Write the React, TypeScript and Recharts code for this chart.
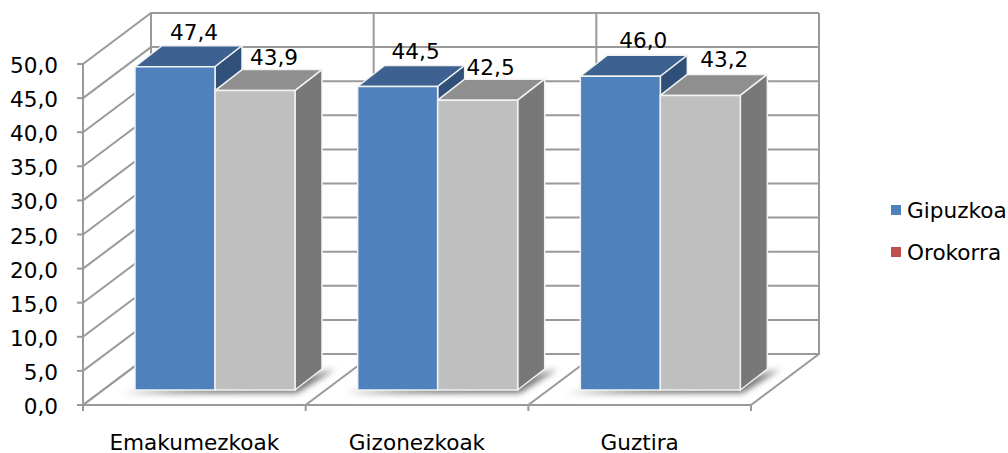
import React from 'react';
import { BarChart, Bar, XAxis, YAxis, CartesianGrid, Legend, LabelList } from 'recharts';

const categories = ['Emakumezkoak', 'Gizonezkoak', 'Guztira'];
const gipuzkoa = [47.4, 44.5, 46.0];
const orokorra = [43.9, 42.5, 43.2];
const yTicks = [0, 5, 10, 15, 20, 25, 30, 35, 40, 45, 50];

const data = categories.map((name, i) => ({ name, gipuzkoa: gipuzkoa[i], orokorra: orokorra[i] }));

const FONT = 'Verdana, "DejaVu Sans", sans-serif';
const FONT_SIZE = 21.6;
const GRID = '#9a9a9a';
// depth of the floor and of the bars, the 3D look is all done with these
const WALL_DX = 68;
const WALL_DY = -51;
const BAR_SHIFT_X = 21;
const BAR_SHIFT_Y = -15;
const BAR_DX = 27;
const BAR_DY = -21;
// the original's labels are not quite evenly placed, [dx, dy] per category
const gipuzkoaLabelNudge = [[-1, 1], [-2, 0], [3, -1]];
const orokorraLabelNudge = [[-1, 2], [-7, 2], [4, -1]];

const fmt = (v: number) => v.toFixed(1).replace('.', ',');

function wallLine(p: any) {
  // left wall diagonal, then across the back wall
  const pts = `${p.x1},${p.y1} ${p.x1 + WALL_DX},${p.y1 + WALL_DY} ${p.x2 + WALL_DX},${p.y1 + WALL_DY}`;
  return <polyline key={p.key} points={pts} fill="none" stroke={GRID} strokeWidth={2} />;
}

function wallColumn(p: any) {
  const bottom = Math.max(p.y1, p.y2);
  const top = Math.min(p.y1, p.y2);
  const pts = `${p.x1},${bottom + 6} ${p.x1},${bottom} ${p.x1 + WALL_DX},${bottom + WALL_DY} ${p.x1 + WALL_DX},${top + WALL_DY}`;
  return <polyline key={p.key} points={pts} fill="none" stroke={GRID} strokeWidth={2} />;
}

function box(p: any, front: string, top: string, side: string, shadow: boolean) {
  const x = p.x + BAR_SHIFT_X;
  const y = p.y + BAR_SHIFT_Y;
  const w = p.width;
  const b = y + p.height;
  const edge = { stroke: '#f2f2f2', strokeWidth: 1.5, strokeLinejoin: 'round' as const };
  return (
    <g>
      {shadow && (
        <polygon
          points={`${x - 13},${b + 3} ${x + 2 * w + 2},${b + 3} ${x + 2 * w + BAR_DX + 13},${b + BAR_DY} ${x + 2 * w},${b - 10}`}
          fill="#6e6e6e"
          filter="url(#floorShadow)"
        />
      )}
      <polygon points={`${x},${y} ${x + BAR_DX},${y + BAR_DY} ${x + w + BAR_DX},${y + BAR_DY} ${x + w},${y}`} fill={top} {...edge} />
      <polygon points={`${x + w},${y} ${x + w + BAR_DX},${y + BAR_DY} ${x + w + BAR_DX},${b + BAR_DY} ${x + w},${b}`} fill={side} {...edge} />
      <rect x={x} y={y} width={w} height={p.height} fill={front} {...edge} />
    </g>
  );
}

function valueLabel(nudge: number[][]) {
  return (p: any) => (
    <text
      x={p.x + p.width / 2 + 41 + nudge[p.index][0]}
      y={p.y - 50 + nudge[p.index][1]}
      textAnchor="middle"
      dominantBaseline="central"
      fontSize={FONT_SIZE}
      fontFamily={FONT}
      fill="#000"
    >
      {fmt(p.value)}
    </text>
  );
}

function CategoryTick(p: any) {
  return (
    <text x={p.x} y={p.y + 37} textAnchor="middle" fontSize={FONT_SIZE} fontFamily={FONT} fill="#000">
      {p.payload.value}
    </text>
  );
}

function ValueTick(p: any) {
  return (
    <text x={p.x} y={p.y + 9} textAnchor="end" fontSize={FONT_SIZE} fontFamily={FONT} fill="#000">
      {fmt(p.payload.value)}
    </text>
  );
}

function legendContent(props: any) {
  return (
    <div style={{ fontFamily: FONT, fontSize: FONT_SIZE, color: '#000' }}>
      {props.payload.map((item: any) => (
        <div key={item.value} style={{ display: 'flex', alignItems: 'center', height: 42, whiteSpace: 'nowrap' }}>
          <span style={{ width: 10, height: 10, background: item.color, marginRight: 6 }} />
          {item.value}
        </div>
      ))}
    </div>
  );
}

export default function App() {
  return (
    <div style={{ position: 'absolute', left: 0, top: 0, width: 1008, height: 453, background: '#fff' }}>
      <BarChart
        width={1008}
        height={453}
        data={data}
        margin={{ top: 64, right: 140, bottom: 0, left: 0 }}
        barSize={80}
        barGap={0}
      >
        <defs>
          <filter id="floorShadow" x="-20%" y="-100%" width="140%" height="300%">
            <feGaussianBlur stdDeviation="3" />
          </filter>
        </defs>
        <CartesianGrid
          horizontal={wallLine}
          vertical={wallColumn}
          verticalCoordinatesGenerator={({ offset }: any) =>
            [0, 1, 2, 3].map((i) => offset.left + (i * offset.width) / 3)
          }
        />
        <XAxis
          dataKey="name"
          height={48}
          tickLine={false}
          axisLine={{ stroke: GRID, strokeWidth: 2 }}
          tick={<CategoryTick />}
          interval={0}
        />
        <YAxis
          width={83}
          domain={[0, 50]}
          ticks={yTicks}
          tickLine={{ stroke: GRID, strokeWidth: 2 }}
          tickSize={6}
          tickMargin={19}
          axisLine={{ stroke: GRID, strokeWidth: 2 }}
          tick={<ValueTick />}
          interval={0}
        />
        <Legend
          layout="vertical"
          align="right"
          verticalAlign="top"
          wrapperStyle={{ left: 891, top: 189, width: 117 }}
          content={legendContent}
        />
        <Bar
          dataKey="gipuzkoa"
          name="Gipuzkoa"
          fill="#4F81BD"
          isAnimationActive={false}
          shape={(p: any) => box(p, '#4F81BD', '#3D6291', '#315079', true)}
        >
          <LabelList dataKey="gipuzkoa" content={valueLabel(gipuzkoaLabelNudge)} />
        </Bar>
        <Bar
          dataKey="orokorra"
          name="Orokorra"
          fill="#C0504D"
          isAnimationActive={false}
          shape={(p: any) => box(p, '#BFBFBF', '#8F8F8F', '#787878', false)}
        >
          <LabelList dataKey="orokorra" content={valueLabel(orokorraLabelNudge)} />
        </Bar>
      </BarChart>
    </div>
  );
}
